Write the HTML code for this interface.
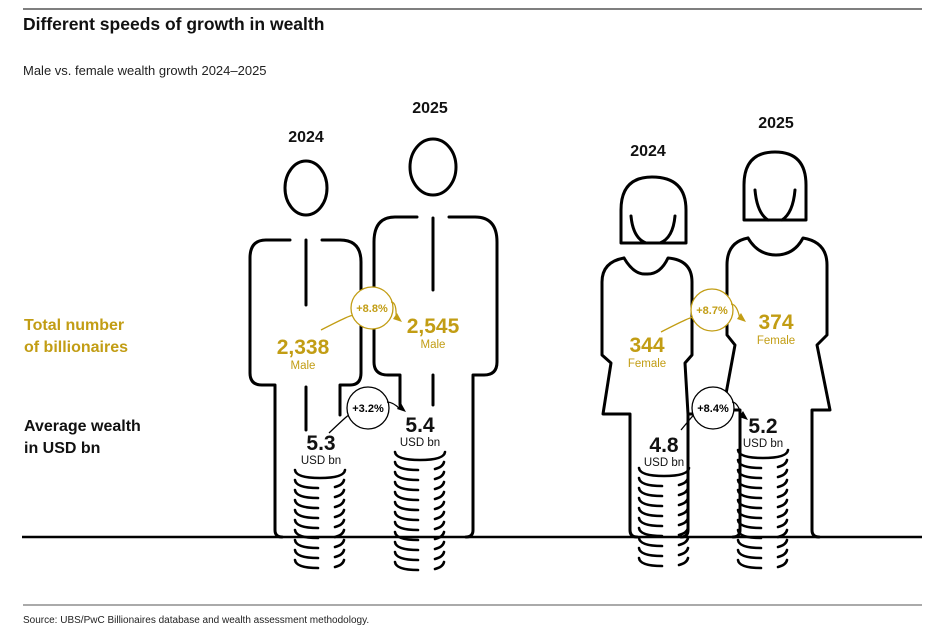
<!DOCTYPE html>
<html><head><meta charset="utf-8"><style>
body{margin:0;background:#fff;}
svg{display:block;font-family:"Liberation Sans",sans-serif;}
</style></head><body>
<svg id="chart" width="936" height="637" viewBox="0 0 936 637" xmlns="http://www.w3.org/2000/svg">
<line x1="23" y1="9" x2="922" y2="9" stroke="#333" stroke-width="1.2"/>
<text x="23" y="30" font-size="17.5" font-weight="bold" fill="#111">Different speeds of growth in wealth</text>
<text x="23" y="75" font-size="13" fill="#222">Male vs. female wealth growth 2024–2025</text>
<text x="24" y="330" font-size="16" font-weight="bold" fill="#c29d14">Total number</text>
<text x="24" y="352" font-size="16" font-weight="bold" fill="#c29d14">of billionaires</text>
<text x="24" y="431" font-size="16" font-weight="bold" fill="#111">Average wealth</text>
<text x="24" y="453" font-size="16" font-weight="bold" fill="#111">in USD bn</text>
<g id="figs" fill="none" stroke="#000" stroke-width="3" stroke-linejoin="round" stroke-linecap="round">
<g>
<ellipse cx="306" cy="188" rx="21" ry="27"/>
<path d="M290 240 L266 240 Q250 240 250 258 L250 373 Q250 385 262 385 L275 385 L275 530 Q275 537 282 537"/>
<path d="M322 240 L340 240 Q361 240 361 262 L361 373 Q361 385 350 385 L340 385 L340 415"/>
<path d="M306 240 L306 305 M306 387 L306 430"/>
</g>
<g>
<ellipse cx="433" cy="167" rx="23" ry="28"/>
<path d="M417 217 L395 217 Q374 217 374 242 L374 362 Q374 375 388 375 L400 375 L400 405"/>
<path d="M449 217 L475 217 Q497 217 497 242 L497 362 Q497 375 484 375 L473 375 L473 530 Q473 537 466 537"/>
<path d="M433 218 L433 290 M433 375 L433 405"/>
</g>
<g>
<path d="M621 243 L621 210 Q621 177 652 177 Q686 177 686 210 L686 243 Z"/>
<path d="M631 216 Q633 238 646 243 M675 216 Q673 238 660 243"/>
<path d="M624 258 Q634 275 646 274 Q660 275 668 258 Q692 260 692 282 L692 355 L685 363 L688 414 L697 414"/>
<path d="M624 258 Q602 262 602 282 L602 355 L611 363 L603 414 L630 414 L630 530 Q630 537 637 537"/>
<path d="M688 414 L688 530 Q688 537 681 537"/>
</g>
<g>
<path d="M744 220 L744 185 Q744 152 775 152 Q806 152 806 185 L806 220 Z"/>
<path d="M755 190 Q757 213 768 220 M795 190 Q793 213 782 220"/>
<path d="M748 238 Q758 255 776 255 Q794 255 803 238 Q827 242 827 265 L827 335 L817 345 L830 410 L812 410 L812 530 Q812 537 819 537"/>
<path d="M748 238 Q727 242 727 265 L727 335 L735 345 L723 410 L740 410 L740 530 Q740 537 733 537"/>
</g>
</g>
<line x1="22" y1="537" x2="922" y2="537" stroke="#000" stroke-width="2.5"/>
<g id="coins"></g>
<g id="labels"></g>
<line x1="23" y1="605" x2="922" y2="605" stroke="#555" stroke-width="1"/>
<text x="23" y="623" font-size="10" fill="#222">Source: UBS/PwC Billionaires database and wealth assessment methodology.</text>
</svg>
<script>
const groups = ['Male','Male','Female','Female'];
const years = ['2024','2025','2024','2025'];
const counts = ['2,338','2,545','344','374'];
const wealth = ['5.3','5.4','4.8','5.2'];
const countGrowth = ['+8.8%','+8.7%'];
const wealthGrowth = ['+3.2%','+8.4%'];
const coinCounts = [10,12,10,12];

const NS='http://www.w3.org/2000/svg';
const gold='#c29d14';
const coinX=[320,420,664,763];
const coinTop=[470,452,468,450];
const yearPos=[[306,142],[430,113],[648,156],[776,128]];
const countPos=[[303,354],[433,333],[647,352],[776,329]];
const wealthPos=[[321,450],[420,432],[664,452],[763,433]];
function el(tag,attrs,parent,txt){const e=document.createElementNS(NS,tag);for(const k in attrs)e.setAttribute(k,attrs[k]);if(txt!==undefined)e.textContent=txt;parent.appendChild(e);return e;}
const cg=document.getElementById('coins');
const lg=document.getElementById('labels');
for(let i=0;i<4;i++){
  const stack=el('g',{fill:'none',stroke:'#000','stroke-width':2.6,'stroke-linecap':'round'},cg);
  
  
  for(let j=0;j<coinCounts[i];j++){
    const x=coinX[i],y=coinTop[i]+j*10;
    let d;
    if(j===0) d=`M${x-25} ${y} Q${x-24} ${y+8} ${x} ${y+8} Q${x+24} ${y+8} ${x+25} ${y}`;
    else d=`M${x-25} ${y} Q${x-24} ${y+8} ${x-2} ${y+8} M${x+15} ${y+7} Q${x+23} ${y+5} ${x+24} ${y}`;
    const p=el('path',{d},stack);
    
    
  }
  const yt=el('text',{x:yearPos[i][0],y:yearPos[i][1],'font-size':16,'font-weight':'bold','text-anchor':'middle',fill:'#111'},lg,years[i]);
  
  
  const ct=el('text',{x:countPos[i][0],y:countPos[i][1],'font-size':21,'font-weight':'bold','text-anchor':'middle',fill:gold},lg,counts[i]);
  
  
  const gt=el('text',{x:countPos[i][0],y:countPos[i][1]+15,'font-size':11.5,'text-anchor':'middle',fill:gold},lg,groups[i]);
  
  
  const wt=el('text',{x:wealthPos[i][0],y:wealthPos[i][1],'font-size':21,'font-weight':'bold','text-anchor':'middle',fill:'#111'},lg,wealth[i]);
  
  
  const ut=el('text',{x:wealthPos[i][0],y:wealthPos[i][1]+14,'font-size':11.5,'text-anchor':'middle',fill:'#111'},lg,'USD bn');
  
  
}
const gc=[[372,308],[712,310]];
const wc=[[368,408],[713,408]];
const gFrom=[[321,330],[661,332]], gTo=[[402,322],[746,322]];
const wFrom=[[329,433],[681,430]], wTo=[[406,412],[748,420]];
function badge(c,from,to,txt,color,name){
  const g=el('g',{},lg);
  
  
  el('path',{d:`M${from[0]} ${from[1]} Q${c[0]-18} ${c[1]+5} ${c[0]-20} ${c[1]+8}`,fill:'none',stroke:color,'stroke-width':1.3},g);
  el('circle',{cx:c[0],cy:c[1],r:21,fill:'#fff',stroke:color,'stroke-width':1.3},g);
  el('path',{d:`M${c[0]+19} ${c[1]-6} Q${c[0]+25} ${c[1]-6} ${to[0]-6} ${to[1]-3}`,fill:'none',stroke:color,'stroke-width':1.3},g);
  el('path',{d:`M${to[0]} ${to[1]} l-9 -3 l4 -6 z`,fill:color},g);
  el('text',{x:c[0],y:c[1]+4,'font-size':11,'font-weight':'bold','text-anchor':'middle',fill:color},g,txt);
}
for(let k=0;k<2;k++){
  badge(gc[k],gFrom[k],gTo[k],countGrowth[k],gold,'count-growth-badge');
  badge(wc[k],wFrom[k],wTo[k],wealthGrowth[k],'#000','wealth-growth-badge');
}
</script>
</body></html>
